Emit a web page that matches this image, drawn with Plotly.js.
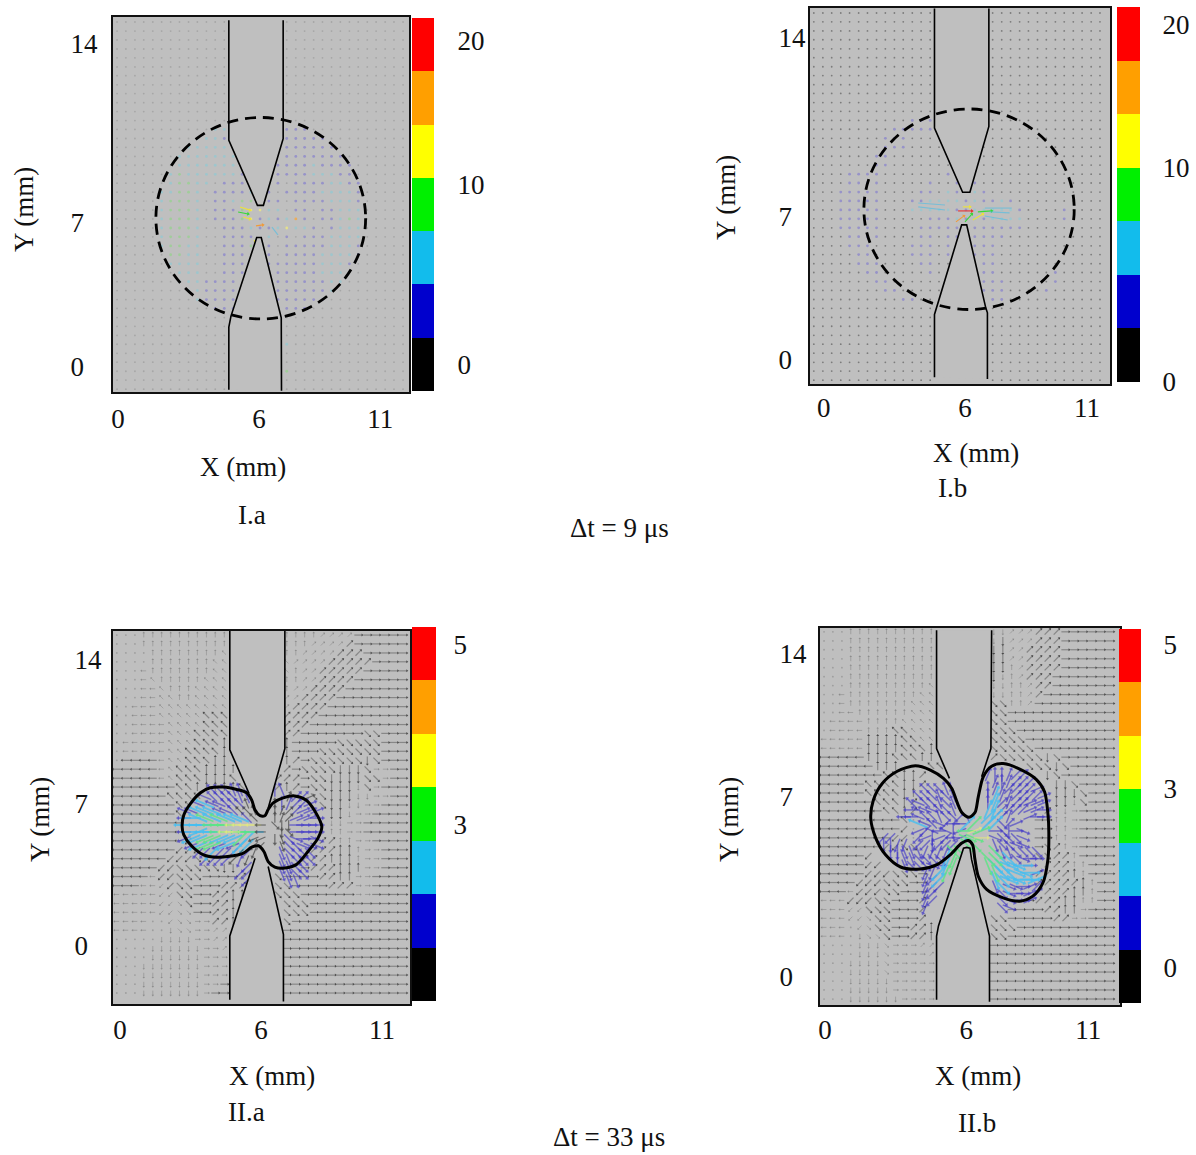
<!DOCTYPE html>
<html><head><meta charset="utf-8">
<script src="https://cdn.plot.ly/plotly-3.0.1.min.js"></script>
<style>html,body{margin:0;padding:0;background:#fff}#c{width:1196px;height:1155px}</style>
</head><body><div id="c"></div>
<script>
/* ---------- grid stations of the vector fields (mm) ---------- */
const colsA=[-0.04,0.33,0.71,1.08,1.46,1.83,2.21,2.58,2.96,3.33,3.71,4.08,4.46,4.83,5.21,5.58,5.96,6.33,6.71,7.08,7.46,7.83,8.21,8.58,8.96,9.33,9.71,10.08,10.46,10.83,11.21,11.58,11.96];
const rowsA=[14.42,14.04,13.67,13.29,12.92,12.54,12.17,11.79,11.42,11.04,10.67,10.29,9.92,9.54,9.17,8.79,8.42,8.04,7.67,7.29,6.92,6.54,6.17,5.79,5.42,5.04,4.67,4.29,3.92,3.54,3.17,2.79,2.42,2.04,1.67,1.29,0.92,0.54,0.17,-0.21,-0.58,-0.96];
const colsB=[-0.42,-0.04,0.33,0.71,1.08,1.46,1.83,2.21,2.58,2.96,3.33,3.71,4.08,4.46,4.83,5.21,5.58,5.96,6.33,6.71,7.08,7.46,7.83,8.21,8.58,8.96,9.33,9.71,10.08,10.46,10.83,11.21,11.58];
const rowsB=[14.5,14.13,13.75,13.38,13,12.63,12.25,11.88,11.5,11.13,10.75,10.38,10,9.63,9.25,8.88,8.5,8.13,7.75,7.38,7,6.63,6.25,5.88,5.5,5.13,4.75,4.38,4,3.63,3.25,2.88,2.5,2.13,1.75,1.38,1,0.63,0.25,-0.13,-0.5,-0.88];
const colsC=[-0.13,0.25,0.63,1,1.38,1.75,2.13,2.5,2.88,3.25,3.63,4,4.38,4.75,5.13,5.5,5.88,6.25,6.63,7,7.38,7.75,8.13,8.5,8.88,9.25,9.63,10,10.38,10.75,11.13,11.5,11.88];
const rowsC=[13,12.63,12.25,11.88,11.5,11.13,10.75,10.38,10,9.63,9.25,8.88,8.5,8.13,7.75,7.38,7,6.63,6.25,5.88,5.5,5.13,4.75,4.38,4,3.63,3.25,2.88,2.5,2.13,1.75,1.38,1,0.63,0.25,-0.13,-0.5,-0.88,-1.25,-1.63,-2];
const kColsIIa=[2.71,3,3.29,3.58,3.88,4.17,4.46,4.75,5.04,5.33,5.63,5.92,6.21,6.5,6.79,7.08,7.38,7.67,7.96,8.25];
const kRowsIIa=[6.5,6.21,5.92,5.63,5.33,5.04,4.75,4.46,4.17,3.88,3.58,3.29,3,2.71];
const kColsIIb=[2.17,2.46,2.75,3.04,3.33,3.63,3.92,4.21,4.5,4.79,5.08,5.38,5.67,5.96,6.25,6.54,6.83,7.13,7.42,7.71,8,8.29,8.58,8.88,9.17];
const kRowsIIb=[8.42,8.13,7.83,7.54,7.25,6.96,6.67,6.38,6.08,5.79,5.5,5.21,4.92,4.63,4.33,4.04,3.75,3.46,3.17,2.88];

/* ---------- panel I: velocity class read at each station ---------- */
const speedIa=[
".............      ..............",".............      ..............",".............      ..............",".............      ..............",
".............      ..............",".............      ..............",".............      ..............",".............      ..............",
".............      ..............",".............      ..............",".............      ..............",".............      ..............",
"...........cc      vvv...........",".........cccv      vvvvv.........","........ccccc      vvvvvv........",".......ccccccc     vvvvvvv.......",
".......ccccccc    vvvvcvvvv......","......cgccccccv   vvvvcccvv......","......cggcc.vvv   v.vvvvccvv.....",".....ccggc.vvvvc v.vvvvccccv.....",
".....cgggc.vvcgg vv.vvvvcccv.....",".....cgggc.vvvgyycc.vv.vvccc.....",".....cgggc.vvvgyvcvcov.vvcgc.....",".....cgggc..vvvcvvcyccv.vccc.....",
".....cgggc..vvvv c.v.vvvcccc.....",".....cggcc..vvvg v.vvvvvcccv.....","......ggcc..vvv  v.vvvvccccv.....","......cccc..vvv  vvvvvvcccv......",
".......ccc..vvv   vvvvvccc.......",".......cccvvvv    vvvvvvcc.......","........ccvvvv    vvvvvvc........",".........cvvvv    vvvvvv.........",
"...........vvv    vvvv...........",".............      ..............",".............      ..............",".............      ..............",
".............      c.............",".............      ..............",".............      ..............",".............      g.............",
".............      ..............",".............      .............."];
const speedIb=[
"..............      .............","..............      .............","..............      .............","..............      .............",
"..............      .............","..............      .............","..............      .............","..............      .............",
"..............      .............","..............      .............","..............      .............","..............      .............",
"...........vvv      .............",".........vvvvv      .............","........vvv...      .............","........vvv....    ..............",
".......vv......    ..............",".......vv.......   ..............","....vvvv.......v   ..............","....vvvv.....v..v v..............",
"...vvvvv....vv.cv cv.............","...vvvvv...vvccccvcvvcv..........","...vvvvv...cccccvvcccccv....v....","...vvvvv.....vvvcvcvcccc....v....",
"...vvvvv....vvvvv vvvvvv.........","....vvvv....vv.vv vvvv...........","....vvv....vvv.v  vvv............",".....vv....vvv.v  vvv............",
".....vvv....vv..   vv............","......vv.....v.    vv......v.....",".......vv......    vvv.....v.....","........vv.....    vvv....v......",
"..........vv..      vv...........","..............      .............","..............      .............","..............      .............",
"..............      .............","..............      .............","..............      .............","..............      .............",
"..............      .............","..............      ............."];

/* strongest arrows near the gap: x0,y0,x1,y1 (mm), class */
const hotIaX0=[5.12,5.04,5.25,5.79,6.46,5.71];
const hotIaY0=[6.67,6.46,6.25,5.88,5.83,5.29];
const hotIaX1=[5.54,5.46,5.54,6.08,6.71,5.79];
const hotIaY1=[6.54,6.38,6.17,5.92,5.5,5.08];
const hotIaC=["y","g","y","o","c","y"];
const hotIbX0=[5.63,5.83,5.54,6.25,5.92,6.46,3.96,3.96,6.75,6.75,6.96];
const hotIbY0=[6.21,6.38,5.75,5.83,5.75,6.17,6.54,6.38,6.33,6.0,6.17];
const hotIbX1=[6.21,6.13,5.88,6.67,6.21,7.04,5.08,5.08,7.88,7.71,7.79];
const hotIbY1=[6.21,6.38,6.0,6.08,6.08,6.21,6.46,6.25,6.33,5.83,6.13];
const hotIbC=["r","y","o","y","g","g","c","c","c","c","c"];

/* ---------- panel II: direction read at each station.
   R U L D = E N W S, W Q A S = NE NW SW SE; capitals dark, lower case pale, . tiny ---------- */
const fieldIIa=[
"...uuuuuuuuuu      uuuuwwwwRRRRRR","...uuuuuuuuuu      uuuwwwwWRRRRRR","....uuuuuuuuq      uuwwwwWWWRRRRR","....uuuuuuuqq      qwwwwWWWWWRRRR",
"...luuuuuuuqq      quwwWWWWWRRRRR","...lquuuuuqqq      uuwwWWWWRRRRRR","...llquuuqqqq      uwwWWWWRRRRRRR","...llqquuqqqq      wwWWWWRRRRRRRR",
"..lllqqqqqqqq      wWWWWRRRRRRRRR","..lllqqqqqQQQ      WWWWRRRRRRRRRR","..llllqqqqQQQ      WWWRRRRRRRRRRR","..llllqqqQQQQ      WWRRRRRRRSSRRR",
".lllllqqqQQQU      URRRRRSSSSSRRR",".lllllqqQQQQU      URRRSSSSSSSRRR",".LLLLlqqQQQUU      UWRSSSSSSDSRRR","LLLLLlqQQQUUUU     WRSSSSDDDSrrRR",
"LLLLLlqQQQUUUQ    WWWRSSDDDDSSrRR","LLLLLLLQQUUUUUQ   WUWRSSDDDdSrRRR","LLLLLLQQQQ            SSDDDddrrRR","LLLLLLLQQ              SDDddrrRRR",
"LLLLLLLQ                DDdrrRRRR","LLLLLLLL                ddrrRRRRR","LLLLLLLL                uurrRRRRR","LLLLLLLLA              WWuurrRRRR",
"LLLLLLLAAA            WWWUUurrRRR","LLLLLLAAASS          WWWUUUurrRRR","LLLLLAASSSSSDD       RWWWUUUrrRRR","LLLLlAASSSRRRRW   SRRRRWWUUrrRRRR",
"LLLllaASSRRRWWW   SSRRRRWWWrrRRRR","lllllaaSSRRWWUU   SSSRRRRRRrrRRRR","lllllaasSRRWWU     SSSRRRRRRRRRRR","lllllaassRRWWU     SSSRRRRRRRRRRR",
"llll..assrrWWU     SRRRRRRRRRRRRR","llll..dssrrww      RRRRRRRRRRRRRR",".....ddddrrww      RRRRRRRRRRRRRR","....ddddddrrw      RRRRRRRRRRRRRR",
"....ddddddrrr      RRRRRRRRRRRRRR","...dddddddrrr      RRRRRRRRRRRRRR","...dddddddrrr      RRRRRRRRRRRRRR","...dddddddrrR      RRRRRRRRRRRRRR",
"...dddddddrRR      RRRRRRRRRRRRRR"];
const fieldIIb=[
"...uuuuuuuuuu      ddwwwWWWRRRRRR","...uuuuuuuuuu      dDwwwWWWRRRRRR","...uuuuuuuuuu      DDwwWWWWRRRRRR","...uuuuuuuuuu      DDwwWWWWRRRRRR",
"...uuuuuuuuuu      DDuwWWWWRRRRRR","...uuuuuuuuuu      DduwWWWRRRRRRR","...uuuuuuuuuq      dduuwWWRRRRRRR","..luuuuuuuuqq      dduuwWRRRRRRRR",
"..luuuuuuuqqq      SSuuwRRRRRRRRR","..lluuuuuuqqq      SSRRRRRRRRRRRR",".lllluuuuqqqq      SSRRRRRRRRRRRR",".lllluuuQQqqq      SSSRRRRRRRRRRR",
"lllllUUUUQQqq      SSSSRRRRRRRRRR","lllllUUUUQQQU      SSSSSRRRRRRRRR","LLLLLUUUQQQUU      WSSSSSDSRRRRRR","LLLLLLUUU   QQ         SSSDSRRRRR",
"LLLLLLLQQUUW             DSRRRRRR","LLLLLQQQQUUW              DDSRRRR","LLLLLQQQQUU               DDDSRRR","LLLLLLQQQUW               DDdSRRR",
"LLLLLLLQQUW              WddrRRRR","LLLLLLLLLQ.             RRuurRRRR","LLLLLLLLLA.             RRuurRRRR","LLLLLLLLAA.             RRuurRRRR",
"LLLLLLLAASS             RSWurRRRR","LLLLLA                  SSWWuRRRR","LLLLLAA                  WWWuuRRR","LLLLLAAASSSR            WWWWUuRRR",
"LLLLAAASSSRR            WWWWWUuRR","LLLlAAASSRRR            WWWWUUuRR","lllAAASSRRRW           RWWWUUuuRR","lllaaSSSRRRW         RRRRWWUUrRRR",
"lllaasSSRRRW       SSRRRRRWWrrRRR","lll.asSSRRWWU      SSSRRRRRRRRRRR","lll.dssSRRWWU      SSRRRRRRRRRRRR","....dddsrrrww      RRRRRRRRRRRRRR",
"....dddsrrrrw      RRRRRRRRRRRRRR","...ddddsrrrrr      RRRRRRRRRRRRRR","...ddddsrrrrr      RRRRRRRRRRRRRR","...dddddrrrrr      RRRRRRRRRRRRRR",
"...dddddrrrrr      RRRRRRRRRRRRRR","...ddddddrrrr      RRRRRRRRRRRRRR"];

/* inside the kernel: speed class and direction (hex: 0=E, 4=N, 8=W, c=S, 22.5 deg steps) */
const kLevelIIa=[
"    bbbbbb  bbb     ","   bbbbbbbb    kbbk ","  bcbbbbbkk  kbbbbb ","bbcccbbbkkk  kkkbbbb","bccgcgcccbk  kkkbbbb","ccccgggyyyyk kkkbbbb","bccccgyyggck  kkbbbb",
"bccggcccgckk kkbbbbb"," bcggbcbcckk  kbbbbb","  bbcbbbkbk   bbbbb ","   bbbbkbk    bbbbb ","         bb   bbbb  ","        bbb   bbbb  ","         b     bb   "];
const kDirIIa=[
"    666554  345     ","   76666554    3221 ","  777766654  443221 ","77777776665  4322111","88777777766  4321110","888888888888 ecc0000","889888888888  ce0000",
"99999999aa99 cdef00f"," 9999999aaaa  deefff","  aaaaaaaab   deeee ","   aaaaabb    ddeee ","         ab   ddee  ","        aab   ddee  ","         a     dd   "];
const kLevelIIb=[
"                bbbbbb   ","                 bbbbbb  ","       bbbbb    bbbbbbbb ","      bbbbbbb   bcbbbbbbb","     bbbbbbbbb  bcbbbbbbb","     bbbbbbbbb  ccbbbbbbb","    bbbbbbbbbb  ccbb  bbb",
"      cbbbbbbcg ccbbb    ","      bbbbbbbgyg bbbbb   "," bb   bbbbbbbggy bbbbb   "," bbbb bbbbbbcgg  bbbbb   ","  bbbbbbbbbgg    gbbbbbb ","   bbbbbbbcg    ggccbbbb ","    bbbbbbcg    gcccccb  ",
"       bbcg      gcccccb ","       bbc       ccccccc ","       bbb       bcbbbbb ","       bb         bbbbbb ","       bb         bbbbb  ","       b          bb     "];
const kDirIIb=[
"                344322   ","                 343222  ","       66655    43322221 ","      6665655   433322221","     676656554  432322111","     877766555  332222110","    88766566a5  2223  100",
"      7767a8822 22e21    ","      9a787c9811 0ec0f   "," aa   a9c9a89ff0 feeef   "," ccbb aacaaaaee  deeff   ","  ccdddbbbbee    eddeeee ","   cddeeeebb    eeeeef00 ","    deeef0bb    deeff00  ",
"       bbab      deeff01 ","       baa       deff001 ","       baa       deff012 ","       ba         ef0012 ","       ba         ef001  ","       b          ef     "];

/* ---------- electrodes (mm); null = the outline is hidden behind the kernel contour ---------- */
const upIaX=[4.65,4.65,5.85,6.10,6.93,6.93], upIaY=[14.49,9.46,6.74,6.74,9.53,14.49];
const loIaX=[4.65,4.65,4.74,5.82,6.01,6.85,6.86], loIaY=[-0.99,1.64,2.10,5.39,5.39,2.03,-1.03];
const upIbX=[4.64,4.64,5.82,6.125,6.92,6.92], upIbY=[14.69,9.68,6.99,6.99,9.75,14.69];
const loIbX=[4.64,4.64,5.78,5.99,6.79,6.86,6.86], loIbY=[-0.76,1.875,5.625,5.625,2.15,1.94,-0.83];
const upIIaX=[4.61,4.61,5.42,null,6.22,6.92,6.92], upIIaY=[13.19,8.19,6.36,null,5.74,8.24,13.19];
const tipIIaX=[5.53,5.67,5.88,6.08], tipIIaY=[6.08,5.67,5.43,5.43];
const loIIaX=[4.61,4.61,5.67,null,6.22,6.86,6.86], loIIaY=[-2.28,0.39,3.65,null,3.30,0.46,-2.36];
const tipLoIIaX=[5.81,6.04], tipLoIIaY=[4.17,3.93];
const upIIbX=[4.68,4.68,5.22,null,6.57,6.96,6.99], upIIbY=[14.49,9.53,8.28,null,8.35,9.53,14.49];
const tipIIbX=[5.53,5.74,6.04,6.29,6.43], tipIIbY=[7.31,6.85,6.65,6.85,7.51];
const loIIbX=[4.68,4.68,4.76,5.81,5.95,6.08,6.15,6.90,6.90], loIIbY=[-0.99,1.68,2.10,5.36,5.39,5.36,4.875,1.68,-1.07];

/* ---------- kernel contours (mm) ---------- */
const kernelIIaX=[2.61,2.68,2.96,3.38,3.79,4.35,4.90,5.32,5.53,5.67,5.88,6.08,6.22,6.43,6.85,7.33,7.82,8.17,8.47,8.31,7.89,7.40,6.92,6.50,6.22,6.04,5.81,5.53,5.18,4.76,4.07,3.51,3.03,2.68,2.61];
const kernelIIaY=[4.97,5.46,5.94,6.39,6.60,6.63,6.53,6.39,6.08,5.67,5.43,5.43,5.69,5.97,6.18,6.26,6.08,5.64,4.97,4.49,3.93,3.38,3.24,3.28,3.51,3.93,4.17,4.11,3.86,3.75,3.69,3.79,4.14,4.63,4.97];
const kernelIIbX=[1.92,2.03,2.40,3.03,3.79,4.42,4.97,5.32,5.53,5.74,6.04,6.29,6.43,6.64,6.99,7.47,8.17,8.86,9.21,9.35,9.39,9.35,9.14,8.72,8.17,7.47,6.78,6.43,6.29,6.19,6.01,5.74,5.25,4.70,4.00,3.17,2.54,2.13,1.92];
const kernelIIbY=[6.61,7.38,8.07,8.58,8.81,8.63,8.28,7.86,7.31,6.85,6.65,6.85,7.51,8.35,8.79,8.90,8.67,8.24,7.72,6.82,5.99,4.88,3.90,3.35,3.14,3.28,3.63,4.18,4.88,5.50,5.68,5.57,5.08,4.67,4.49,4.57,5.08,5.78,6.61];

/* ---------- dashed reference circles (mm): x0,x1,y0,y1 ---------- */
const circleIa=[1.59,10.39,1.98,10.42];
const circleIb=[1.68,10.50,2.08,10.48];

/* ---------- axes: ranges and label stations ---------- */
const rangeXIa=[-0.21,12.21], rangeYIa=[-1.08,14.63];
const rangeXIb=[-0.58,12.0], rangeYIb=[-1.04,14.71];
const rangeXIIa=[-0.29,12.17], rangeYIIa=[-2.46,13.17];
const rangeXIIb=[-0.21,12.375], rangeYIIb=[-1.21,14.58];
const xTickText=["0","6","11"], yTickText=["0\u00a0\u00a0","7\u00a0\u00a0","14"];
const xTicksIa=[0,5.92,11], yTicksIa=[0,6,13.5];
const xTicksIb=[0,5.92,11.04], yTicksIb=[0,5.96,13.46];
const xTicksIIa=[0,5.92,11], yTicksIIa=[0,5.96,11.96];
const xTicksIIb=[0,5.92,11.04], yTicksIIb=[0,7.5,13.5];

/* ---------- colour keys ---------- */
const barLevels=[0,1,2,3,4,5,6];
const barColors=["#000000","#0000cd","#12bcec","#00f000","#ffff00","#ff9f00","#ff0000"];
const barTicksIa=[0,3.37,6.07], barTextIa=["0","10","20"];
const barTicksIb=[-0.5,3.51,6.18], barTextIb=["0","10","20"];
const barTicksIIa=[2.80,6.17], barTextIIa=["3","5"];
const barTicksIIb=[0.155,3.51,6.2], barTextIIb=["0","3","5"];

/* ---------- drawing ---------- */
const W=1196,H=1155,FONT="Liberation Serif",FS=27,BG="#bfbfbf";
const traces=[],shapes=[],annotations=[],layout={};
const dirAngle={R:0,W:45,U:90,Q:135,L:180,A:225,D:270,S:315};
const px=(v)=>v/W, py=(v)=>1-v/H;

function heads(ax,ay,x,y,ang,color,size){
  traces.push({type:'scatter',mode:'markers',xaxis:ax,yaxis:ay,x,y,hoverinfo:'skip',
    marker:{symbol:'triangle-up',size,color,angle:ang,line:{width:0}}});
}
function segs(ax,ay,x,y,color,width){
  traces.push({type:'scatter',mode:'lines',xaxis:ax,yaxis:ay,x,y,hoverinfo:'skip',line:{color,width}});
}
function drawField(ax,ay,cols,rows,table){
  const dark={x:[],y:[],hx:[],hy:[],a:[]},pale={x:[],y:[],hx:[],hy:[],a:[]},dx=[],dy=[];
  table.forEach((row,j)=>{[...row].forEach((c,i)=>{
    if(c===' ')return;
    if(c==='.'){dx.push(cols[i]);dy.push(rows[j]);return;}
    const up=c===c.toUpperCase(),t=dirAngle[c.toUpperCase()]*Math.PI/180,l=up?0.33:0.2,b=up?dark:pale;
    const x1=cols[i]+l/2*Math.cos(t),y1=rows[j]+l/2*Math.sin(t);
    b.x.push(cols[i]-l/2*Math.cos(t),x1,null);b.y.push(rows[j]-l/2*Math.sin(t),y1,null);
    b.hx.push(x1);b.hy.push(y1);b.a.push(90-dirAngle[c.toUpperCase()]);
  });});
  segs(ax,ay,pale.x,pale.y,'rgba(135,135,135,.55)',1);
  heads(ax,ay,pale.hx,pale.hy,pale.a,'rgba(115,115,115,.6)',2.2);
  segs(ax,ay,dark.x,dark.y,'rgba(105,105,105,.65)',1.2);
  heads(ax,ay,dark.hx,dark.hy,dark.a,'rgba(45,45,45,.75)',2.6);
  traces.push({type:'scatter',mode:'markers',xaxis:ax,yaxis:ay,x:dx,y:dy,hoverinfo:'skip',marker:{size:1.8,color:'rgba(135,135,135,.6)',line:{width:0}}});
}
const kColor={b:'rgba(60,50,200,.6)',c:'rgba(70,190,240,.8)',g:'rgba(90,230,130,.8)',y:'rgba(225,230,130,.75)',k:'rgba(70,70,70,.7)'};
const kLen={b:0.55,c:0.8,g:0.75,y:0.6,k:0.4};
const kWidth={b:1.5,c:1.9,g:1.7,y:1.3,k:1.2};
function drawKernel(ax,ay,cols,rows,levels,dirs){
  Object.keys(kColor).forEach(k=>{
    const x=[],y=[],hx=[],hy=[],a=[];
    levels.forEach((row,j)=>{[...row].forEach((c,i)=>{
      if(c!==k)return;
      const d=parseInt(dirs[j][i],16);if(isNaN(d))return;
      const deg=d*22.5,t=deg*Math.PI/180,l=kLen[k];
      const x1=cols[i]+l/2*Math.cos(t),y1=rows[j]+l/2*Math.sin(t);
      x.push(cols[i]-l/2*Math.cos(t),x1,null);y.push(rows[j]-l/2*Math.sin(t),y1,null);
      hx.push(x1);hy.push(y1);a.push(90-deg);
    });});
    segs(ax,ay,x,y,kColor[k],kWidth[k]);
    heads(ax,ay,hx,hy,a,kColor[k],4);
  });
}
const dotColor={v:'rgba(95,85,215,.42)',c:'rgba(125,205,220,.5)',g:'rgba(140,215,130,.6)',y:'rgba(235,230,130,.85)',o:'rgba(240,170,80,.9)',r:'rgba(235,50,50,.95)'};
function drawDots(ax,ay,cols,rows,table,dotCol){
  const x=[],y=[];
  table.forEach((row,j)=>{[...row].forEach((c,i)=>{if(c==='.'){x.push(cols[i]);y.push(rows[j]);}});});
  traces.push({type:'scatter',mode:'markers',xaxis:ax,yaxis:ay,x,y,hoverinfo:'skip',marker:{size:1.8,color:dotCol,line:{width:0}}});
  Object.keys(dotColor).forEach(k=>{
    const xx=[],yy=[];
    table.forEach((row,j)=>{[...row].forEach((c,i)=>{if(c===k){xx.push(cols[i]);yy.push(rows[j]);}});});
    if(xx.length)traces.push({type:'scatter',mode:'markers',xaxis:ax,yaxis:ay,x:xx,y:yy,hoverinfo:'skip',marker:{size:2.8,color:dotColor[k],line:{width:0}}});
  });
}
function drawHot(ax,ay,x0,y0,x1,y1,cls){
  const col={c:'rgba(60,190,235,.55)',g:'#38d838',y:'#ece23c',o:'#f09a3a',r:'#e83030'};
  cls.forEach((c,i)=>{
    segs(ax,ay,[x0[i],x1[i]],[y0[i],y1[i]],col[c],1.1);
    if(c!=='c')heads(ax,ay,[x1[i]],[y1[i]],[90-Math.atan2(y1[i]-y0[i],x1[i]-x0[i])*180/Math.PI],col[c],3.5);
  });
}
function drawElectrode(ax,ay,X,Y,tipX,tipY){
  const k=X.indexOf(null);
  const fx=k<0?X:[...X.slice(0,k),...(tipX||[]),...X.slice(k+1)];
  const fy=k<0?Y:[...Y.slice(0,k),...(tipY||[]),...Y.slice(k+1)];
  traces.push({type:'scatter',mode:'lines',xaxis:ax,yaxis:ay,x:fx,y:fy,fill:'toself',fillcolor:BG,line:{width:0,color:BG},hoverinfo:'skip'});
  traces.push({type:'scatter',mode:'lines',xaxis:ax,yaxis:ay,x:X,y:Y,connectgaps:false,line:{color:'#000',width:1.6},hoverinfo:'skip'});
}
function outline(ax,ay,X,Y){
  traces.push({type:'scatter',mode:'lines',xaxis:ax,yaxis:ay,x:X,y:Y,line:{color:'#000',width:3,shape:'spline',smoothing:0.8},hoverinfo:'skip'});
}
function circle(xr,yr,c){
  shapes.push({type:'circle',xref:xr,yref:yr,x0:c[0],x1:c[1],y0:c[2],y1:c[3],layer:'above',line:{color:'#000',width:2.8,dash:'11px,7px'}});
}
function tickCfg(len){return {ticks:'outside',ticklen:Math.max(0,len),ticklabelstandoff:Math.min(0,len),tickcolor:'rgba(0,0,0,0)',tickfont:{family:FONT,size:FS,color:'#111'}};}
function axes(n,box,rx,ry,xt,yt,xLen,yLen){
  const s=n===1?'':n;
  layout['xaxis'+s]=Object.assign({domain:[px(box[0]),px(box[1])],range:rx,anchor:'y'+s,showgrid:false,zeroline:false,showline:true,mirror:true,linecolor:'#111',linewidth:2,
    tickmode:'array',tickvals:xt,ticktext:xTickText,tickangle:0},tickCfg(xLen));
  layout['yaxis'+s]=Object.assign({domain:[py(box[3]),py(box[2])],range:ry,anchor:'x'+s,showgrid:false,zeroline:false,showline:true,mirror:true,linecolor:'#111',linewidth:2,
    tickmode:'array',tickvals:yt,ticktext:yTickText},tickCfg(yLen));
}
function colorbar(n,box,tv,tt,len){
  const ax='x'+n,ay='y'+n;
  const scale=[];barColors.forEach((c,i)=>{scale.push([i/7,c],[(i+1)/7,c]);});
  traces.push({type:'heatmap',xaxis:ax,yaxis:ay,x:[0],y:barLevels,z:barLevels.map(v=>[v]),zmin:-0.5,zmax:6.5,colorscale:scale,showscale:false,hoverinfo:'skip'});
  layout['xaxis'+n]={domain:[px(box[0]),px(box[1])],range:[-0.5,0.5],anchor:ay,visible:false};
  layout['yaxis'+n]=Object.assign({domain:[py(box[3]),py(box[2])],range:[-0.5,6.5],anchor:ax,side:'right',showgrid:false,zeroline:false,showline:false,
    tickmode:'array',tickvals:tv,ticktext:tt},tickCfg(len));
}
function label(text,x,y,angle){
  annotations.push({xref:'paper',yref:'paper',x:px(x),y:py(y),xanchor:'center',yanchor:'middle',showarrow:false,text,textangle:angle||0,font:{family:FONT,size:FS,color:'#111'}});
}

/* Panel I.a */
axes(1,[113,409,17,392],rangeXIa,rangeYIa,xTicksIa,yTicksIa,2,8);
drawDots('x','y',colsA,rowsA,speedIa,'rgba(150,150,150,.6)');
drawHot('x','y',hotIaX0,hotIaY0,hotIaX1,hotIaY1,hotIaC);
drawElectrode('x','y',upIaX,upIaY);drawElectrode('x','y',loIaX,loIaY);
circle('x','y',circleIa);
colorbar(5,[412,434,18,391],barTicksIa,barTextIa,17);
/* Panel I.b */
axes(2,[810,1110,8,384],rangeXIb,rangeYIb,xTicksIb,yTicksIb,-1,-3);
drawDots('x2','y2',colsB,rowsB,speedIb,'rgba(95,95,95,.7)');
drawHot('x2','y2',hotIbX0,hotIbY0,hotIbX1,hotIbY1,hotIbC);
drawElectrode('x2','y2',upIbX,upIbY);drawElectrode('x2','y2',loIbX,loIbY);
circle('x2','y2',circleIb);
colorbar(6,[1117,1140,7,382],barTicksIb,barTextIb,16);
/* Panel II.a */
axes(3,[113,410,631,1004],rangeXIIa,rangeYIIa,xTicksIIa,yTicksIIa,1,4);
drawField('x3','y3',colsC,rowsC,fieldIIa);
drawKernel('x3','y3',kColsIIa,kRowsIIa,kLevelIIa,kDirIIa);
drawElectrode('x3','y3',upIIaX,upIIaY,tipIIaX,tipIIaY);drawElectrode('x3','y3',loIIaX,loIIaY,tipLoIIaX,tipLoIIaY);
outline('x3','y3',kernelIIaX,kernelIIaY);
colorbar(7,[412,436,627,1001],barTicksIIa,barTextIIa,11);
/* Panel II.b */
axes(4,[820,1120,628,1005],rangeXIIb,rangeYIIb,xTicksIIb,yTicksIIb,0,6);
drawField('x4','y4',colsA,rowsA,fieldIIb);
drawKernel('x4','y4',kColsIIb,kRowsIIb,kLevelIIb,kDirIIb);
drawElectrode('x4','y4',upIIbX,upIIbY,tipIIbX,tipIIbY);drawElectrode('x4','y4',loIIbX,loIIbY);
outline('x4','y4',kernelIIbX,kernelIIbY);
colorbar(8,[1119,1141,629,1003],barTicksIIb,barTextIIb,16);

label('X (mm)',243,467);label('Y (mm)',24,210,-90);label('I.a',252,515);
label('X (mm)',976,453);label('Y (mm)',726,198,-90);label('I.b',952,488);
label('X (mm)',272,1076);label('Y (mm)',40,820,-90);label('II.a',246,1112);
label('X (mm)',978,1076);label('Y (mm)',729,820,-90);label('II.b',977,1123);
label('\u0394t = 9 \u03bcs',619,528);label('\u0394t = 33 \u03bcs',609,1137);

Object.assign(layout,{width:W,height:H,margin:{l:0,r:0,t:0,b:0,pad:0},paper_bgcolor:'#fff',plot_bgcolor:BG,showlegend:false,shapes,annotations});
Plotly.newPlot('c',traces,layout,{staticPlot:true,displayModeBar:false});
</script></body></html>
